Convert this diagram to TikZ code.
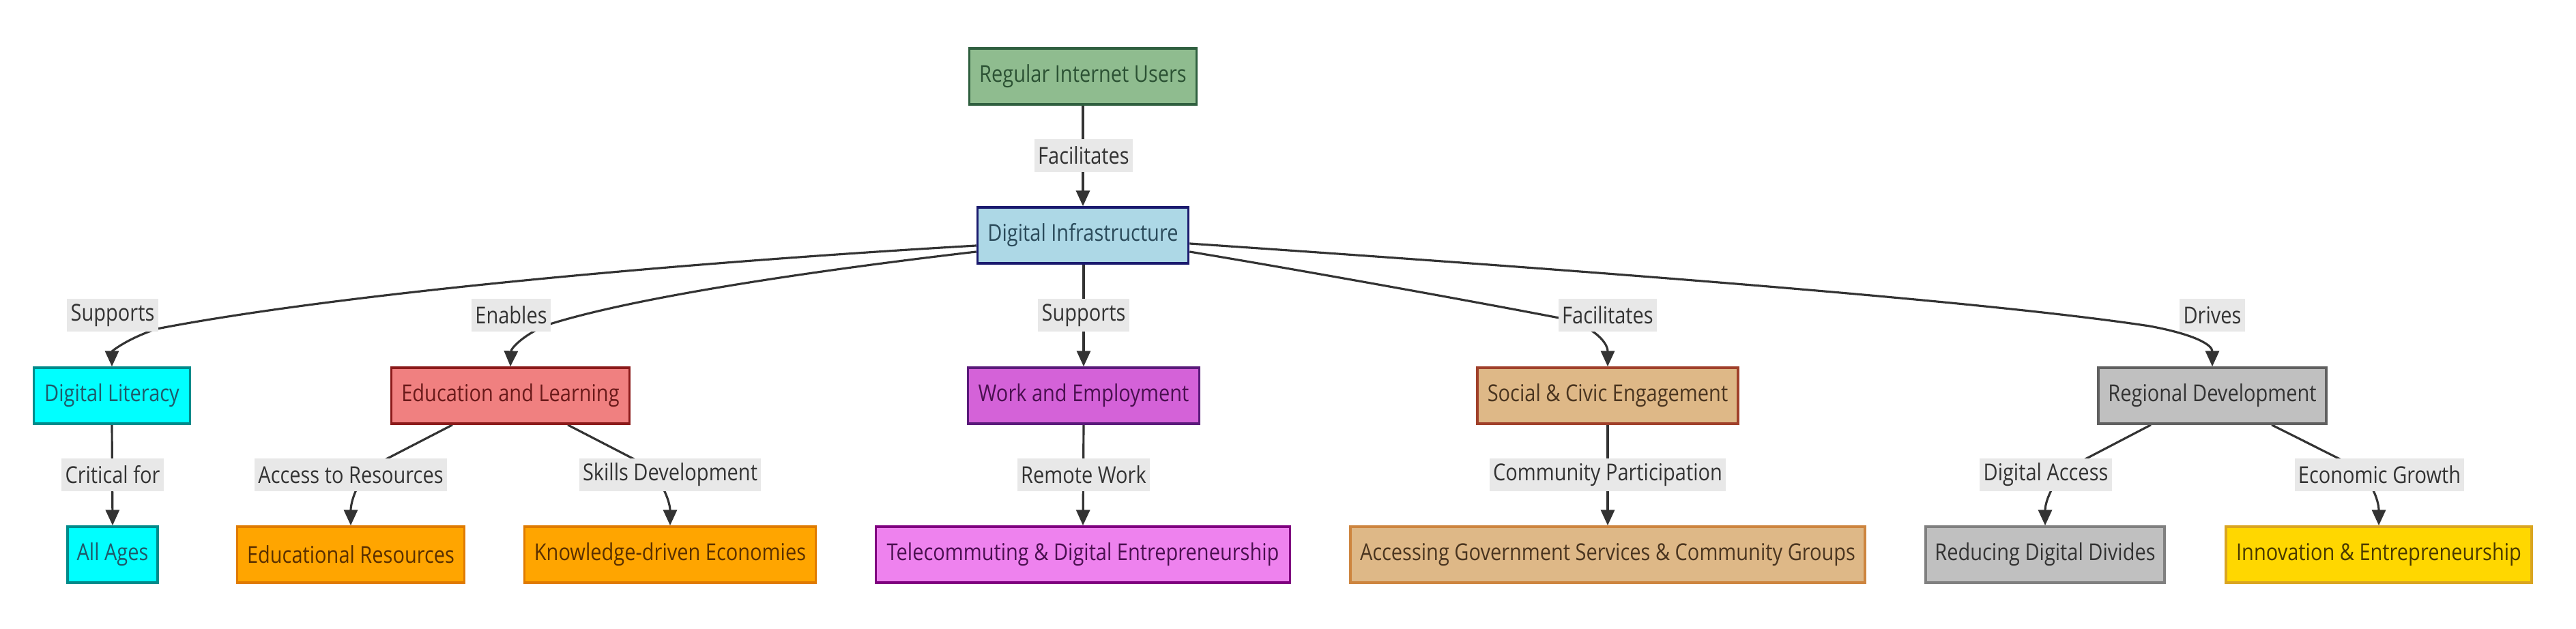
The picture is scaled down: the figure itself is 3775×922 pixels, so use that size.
\documentclass[tikz,border=0pt]{standalone}
\usepackage{fontspec}
\setmainfont{Open Sans}[FakeStretch=0.85]
\usetikzlibrary{arrows.meta,calc}
\pgfdeclarelayer{bg}
\pgfsetlayers{bg,main}
\definecolor{edgec}{HTML}{333333}
\definecolor{lblbg}{HTML}{E8E8E8}
\definecolor{lbltxt}{HTML}{333333}
% fills / strokes / texts
\definecolor{riuF}{HTML}{8FBC8F}\definecolor{riuD}{HTML}{2F5F3F}\definecolor{riuT}{HTML}{2C5234}
\definecolor{diF}{HTML}{ADD8E6}\definecolor{diD}{HTML}{1A1A6E}\definecolor{diT}{HTML}{2A4A5A}
\definecolor{dlF}{HTML}{00FFFF}\definecolor{dlD}{HTML}{008B8B}\definecolor{dlT}{HTML}{1F5A6A}
\definecolor{edF}{HTML}{F08080}\definecolor{edD}{HTML}{8B1A1A}\definecolor{edT}{HTML}{6A1A1A}
\definecolor{orF}{HTML}{FFA500}\definecolor{orD}{HTML}{E07B00}\definecolor{orT}{HTML}{5A3000}
\definecolor{weF}{HTML}{D462D8}\definecolor{weD}{HTML}{5A1A7A}\definecolor{weT}{HTML}{4A1050}
\definecolor{teF}{HTML}{EE82EE}\definecolor{teD}{HTML}{800080}\definecolor{teT}{HTML}{4A1050}
\definecolor{scF}{HTML}{DEB887}\definecolor{scD}{HTML}{A0402A}\definecolor{scT}{HTML}{4A3520}
\definecolor{acF}{HTML}{DEB887}\definecolor{acD}{HTML}{CD853F}\definecolor{acT}{HTML}{4A3520}
\definecolor{rdF}{HTML}{C0C0C0}\definecolor{rdD}{HTML}{606060}\definecolor{rdT}{HTML}{333333}
\definecolor{reF}{HTML}{C0C0C0}\definecolor{reD}{HTML}{808080}\definecolor{reT}{HTML}{333333}
\definecolor{inF}{HTML}{FFD700}\definecolor{inD}{HTML}{DAA520}\definecolor{inT}{HTML}{4A3A00}
\begin{document}
\begin{tikzpicture}[x=0.01cm,y=-0.01cm,
  box/.style={draw, line width=1pt, minimum height=0.82cm, inner sep=0pt,
    font=\fontsize{9.7}{11}\selectfont},
  lbl/.style={fill=lblbg, text=lbltxt, inner xsep=1.5pt, inner ysep=0pt,
    minimum height=0.47cm, font=\fontsize{9.7}{11}\selectfont},
  conn/.style={draw=edgec, line width=0.9pt},
  arr/.style={conn, -{Triangle[length=6.5pt,width=5.7pt]}},
]
\useasboundingbox (0,0) rectangle (3775,922);

% top
\node[box, fill=riuF, draw=riuD, text=riuT, minimum width=3.33cm] (riu) at (1587,112) {Regular Internet Users};
\node[box, fill=diF, draw=diD, text=diT, minimum width=3.09cm] (di) at (1587,345) {Digital Infrastructure};

% row 2
\node[box, fill=dlF, draw=dlD, text=dlT, minimum width=2.29cm] (dl) at (164,580) {Digital Literacy};
\node[box, fill=edF, draw=edD, text=edT, minimum width=3.49cm] (edu) at (748,580) {Education and Learning};
\node[box, fill=weF, draw=weD, text=weT, minimum width=3.39cm] (we) at (1588,580) {Work and Employment};
\node[box, fill=scF, draw=scD, text=scT, minimum width=3.82cm] (sc) at (2356,580) {Social \& Civic Engagement};
\node[box, fill=rdF, draw=rdD, text=rdT, minimum width=3.34cm] (rd) at (3242,580) {Regional Development};

% row 3
\node[box, fill=dlF, draw=dlD, text=dlT, minimum width=1.32cm] (aa) at (165,813) {All Ages};
\node[box, fill=orF, draw=orD, text=orT, minimum width=3.33cm] (er) at (514,813) {Educational Resources};
\node[box, fill=orF, draw=orD, text=orT, minimum width=4.27cm] (kde) at (982,813) {Knowledge-driven Economies};
\node[box, fill=teF, draw=teD, text=teT, minimum width=6.07cm] (tel) at (1587,813) {Telecommuting \& Digital Entrepreneurship};
\node[box, fill=acF, draw=acD, text=acT, minimum width=7.54cm] (acc) at (2356,813) {Accessing Government Services \& Community Groups};
\node[box, fill=reF, draw=reD, text=reT, minimum width=3.50cm] (red) at (2997,813) {Reducing Digital Divides};
\node[box, fill=inF, draw=inD, text=inT, minimum width=4.48cm] (inn) at (3486,813) {Innovation \& Entrepreneurship};

% edge labels
\node[lbl] (l0) at (1588,228) {Facilitates};
\node[lbl] (l1) at (165,462) {Supports};
\node[lbl] (l2) at (749,462) {Enables};
\node[lbl] (l3) at (1588,462) {Supports};
\node[lbl] (l4) at (2356,462) {Facilitates};
\node[lbl] (l5) at (3242,462) {Drives};
\node[lbl] (l6) at (165,696) {Critical for};
\node[lbl] (l7) at (514,696) {Access to Resources};
\node[lbl] (l8) at (982,696) {Skills Development};
\node[lbl] (l9) at (1588,696) {Remote Work};
\node[lbl] (l10) at (2356,696) {Community Participation};
\node[lbl] (l11) at (2998,696) {Digital Access};
\node[lbl] (l12) at (3487,696) {Economic Growth};

\begin{pgfonlayer}{bg}
% straight verticals
\draw[arr] (riu.south) -- (di.north);
\draw[arr] (di.south -| we.north) -- (we.north);
\draw[arr] (dl.south) -- (aa.north);
\draw[arr] (we.south) -- (tel.north);
\draw[arr] (sc.south) -- (acc.north);
% curves from Digital Infrastructure
\draw[arr] ($(di.west)+(0,15)$) .. controls (1000,385) and (500,430) .. (230,482)
  .. controls (185,497) and (164,515) .. (dl.north);
\draw[arr] ($(di.west)+(0,24)$) .. controls (1250,390) and (950,430) .. (806,475)
  .. controls (770,488) and (749,510) .. (edu.north);
\draw[arr] ($(di.east)+(0,24)$) .. controls (1900,395) and (2150,440) .. (2290,467)
  .. controls (2330,476) and (2356,500) .. (sc.north);
\draw[arr] ($(di.east)+(0,12)$) .. controls (2300,395) and (2900,440) .. (3150,478)
  .. controls (3215,490) and (3242,505) .. (rd.north);
% lower branches
\draw[arr] ($(edu.south)+(-85,0)$) -- (560,676) .. controls (525,695) and (514,735) .. (er.north);
\draw[arr] ($(edu.south)+(84,0)$) -- (935,676) .. controls (968,695) and (982,735) .. (kde.north);
\draw[arr] ($(rd.south)+(-90,0)$) -- (3050,676) .. controls (3010,695) and (2997,735) .. (red.north);
\draw[arr] ($(rd.south)+(87,0)$) -- (3435,676) .. controls (3475,695) and (3486,735) .. (inn.north);
\end{pgfonlayer}
\end{tikzpicture}
\end{document}
